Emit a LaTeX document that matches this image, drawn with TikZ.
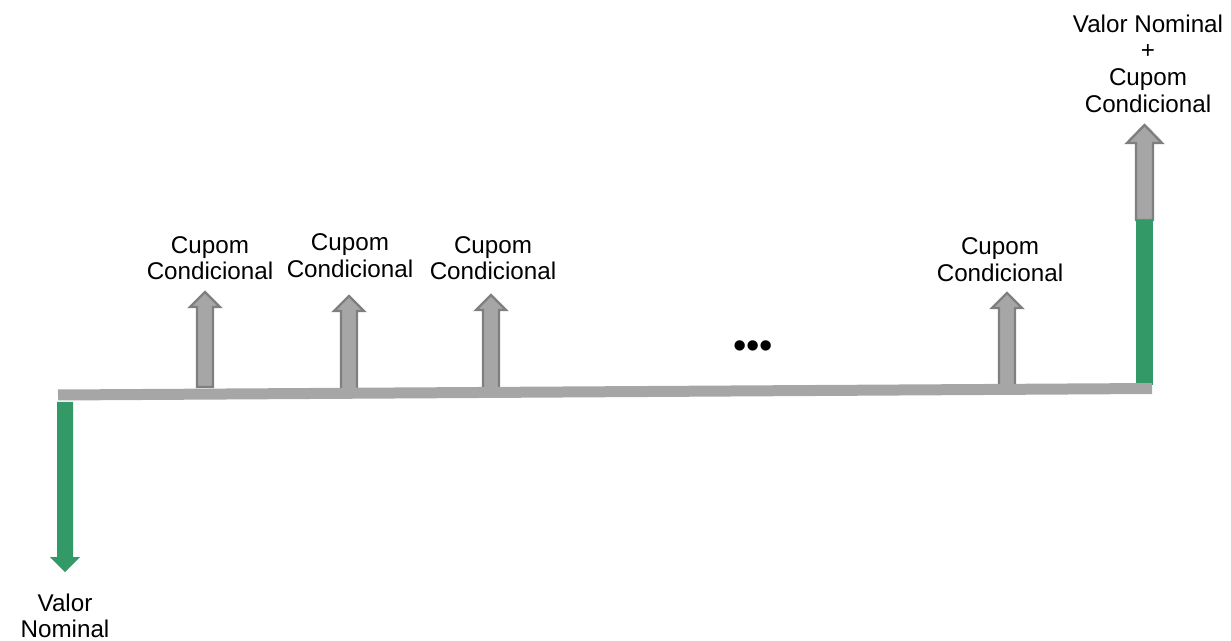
\documentclass[tikz,border=0pt]{standalone}
\usepackage{fontspec}
\setmainfont{Liberation Sans}
\usepackage{tikz}
\usetikzlibrary{calc}

\definecolor{verde}{HTML}{339966}
\definecolor{cinza}{HTML}{A6A6A6}
\definecolor{cinzaescuro}{HTML}{7F7F7F}

\tikzset{
    rotulo/.style={align=center, inner sep=0pt, font=\fontsize{12.1}{13.3}\selectfont},
    seta/.style={fill=cinza, draw=cinzaescuro, line width=1.2pt, line join=miter},
    fluxo/.style={fill=verde, draw=none}
}

% seta cinza para cima: x, base, ponta
\newcommand{\setacupom}[3]{
    \draw[seta] (#1-8,#2) -- (#1-8,#3+15) -- (#1-15,#3+15) -- (#1,#3)
        -- (#1+15,#3+15) -- (#1+8,#3+15) -- (#1+8,#2) -- cycle;
}

\begin{document}
\begin{tikzpicture}[x=0.5pt, y=-0.5pt]
            \useasboundingbox (0,0) rectangle (1231,641);

            % cupons
            \setacupom{205}{387}{292}
            \setacupom{349}{390}{296}
            \setacupom{491}{389}{295}
            \setacupom{1007}{386}{293}

            % vencimento
            \draw[seta] (1136,220) -- (1136,143) -- (1127,143) -- (1144.5,125)
                -- (1162,143) -- (1153,143) -- (1153,220) -- cycle;
            \fill[fluxo] (1136,220) rectangle (1153,385);

            % linha do tempo
            \coordinate (inicio) at (58,395);
            \coordinate (fim) at (1152,388.5);
            \draw[cinza, line width=5.5pt] (inicio) -- (fim);

            % valor nominal pago
            \fill[fluxo] (57,402) -- (57,557) -- (50,557) -- (65,572) -- (80,557)
                -- (73,557) -- (73,402) -- cycle;

            \draw (210,258) node[rotulo]              (c1) {Cupom\\Condicional};
            \draw (350,255.5) node[rotulo]            (c2) {Cupom\\Condicional};
            \draw (493,258) node[rotulo]              (c3) {Cupom\\Condicional};
            \draw (1000,259.5) node[rotulo]           (c4) {Cupom\\Condicional};
            \draw (1148,63.5) node[rotulo]            (vf) {Valor Nominal\\+\\Cupom\\Condicional};
            \draw (65,616) node[rotulo]               (vi) {Valor\\Nominal};
            \draw (753,350) node[inner sep=0pt, font=\fontsize{19}{19}\selectfont] (pts) {\textbullet\textbullet\textbullet};

\end{tikzpicture}
\end{document}
